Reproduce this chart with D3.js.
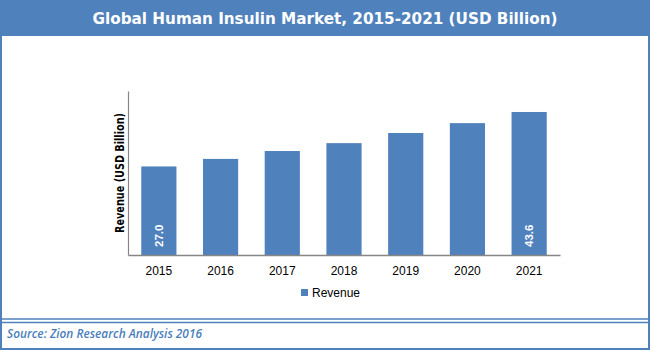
<!DOCTYPE html>
<html><head><meta charset="utf-8">
<script src="https://cdn.jsdelivr.net/npm/d3@7"></script>
<style>body{margin:0;background:#fff}svg{display:block}</style>
</head><body>
<script>
const years = ["2015","2016","2017","2018","2019","2020","2021"];
const revenue = [27.0, 29.3, 31.7, 34.1, 37.2, 40.2, 43.6];
const labelled = ["2015","2021"];
const titleText = "Global Human Insulin Market, 2015-2021 (USD Billion)";
const yTitle = "Revenue (USD Billion)";
const seriesName = "Revenue";
const sourceText = "Source: Zion Research Analysis 2016";

const W = 650, H = 350, blue = "#4f81bd";
const svg = d3.select("body").append("svg").attr("width", W).attr("height", H);

// frame
svg.append("rect").attr("x",0).attr("y",0).attr("width",W).attr("height",36).attr("fill",blue);
svg.append("rect").attr("x",1).attr("y",1).attr("width",W-2).attr("height",H-2)
  .attr("fill","none").attr("stroke",blue).attr("stroke-width",2);
svg.append("line").attr("x1",0).attr("x2",W).attr("y1",319).attr("y2",319).attr("stroke",blue).attr("stroke-width",1.5);
svg.append("line").attr("x1",0).attr("x2",W).attr("y1",322.5).attr("y2",322.5).attr("stroke",blue).attr("stroke-width",1.5);

svg.append("text").attr("x",W/2).attr("y",24).attr("text-anchor","middle")
  .attr("fill","#fff").attr("font-family","DejaVu Sans Condensed, DejaVu Sans").attr("font-weight","bold").attr("font-size",15.5)
  .attr("textLength",465).attr("lengthAdjust","spacingAndGlyphs")
  .text(titleText);

const x = d3.scaleBand().domain(years).range([128,560]).paddingInner(0.43).paddingOuter(0.215);
const y = d3.scaleLinear().domain([0,50]).range([255,91]);

svg.selectAll("rect.bar").data(years).enter().append("rect").attr("class","bar")
  .attr("x",d=>x(d)).attr("width",x.bandwidth())
  .attr("y",(d,i)=>y(revenue[i])).attr("height",(d,i)=>y(0)-y(revenue[i]))
  .attr("fill",blue);

// axes
const xAxis = svg.append("g").attr("transform","translate(0,255)")
  .call(d3.axisBottom(x).tickSize(0).tickPadding(11));
xAxis.select(".domain").attr("stroke","#868686").attr("stroke-width",1.5);
xAxis.selectAll("text").attr("font-family","Liberation Sans").attr("font-size",12).attr("fill","#000");

const yAxis = svg.append("g").attr("transform","translate(128,0)")
  .call(d3.axisLeft(y).tickValues([]).tickSizeOuter(0));
yAxis.select(".domain").attr("stroke","#868686").attr("stroke-width",1.2);

svg.append("text").attr("transform","translate(124,173) rotate(-90)").attr("text-anchor","middle")
  .attr("font-family","DejaVu Sans Condensed, DejaVu Sans").attr("font-weight","bold").attr("font-size",11.5).attr("fill","#000")
  .attr("textLength",120).attr("lengthAdjust","spacingAndGlyphs")
  .text(yTitle);

// data labels
years.forEach((d,i)=>{
  if(!labelled.includes(d)) return;
  svg.append("text").attr("transform",`translate(${x(d)+x.bandwidth()/2+4},${y(0)-8}) rotate(-90)`)
    .attr("text-anchor","start").attr("fill","#fff").attr("font-family","Liberation Sans")
    .attr("font-weight","bold").attr("font-size",11.5).text(revenue[i].toFixed(1));
});

// legend
const lg = svg.append("g").attr("transform","translate(301,289)");
lg.append("rect").attr("width",7).attr("height",7).attr("fill",blue);
lg.append("text").attr("x",11).attr("y",8).attr("font-family","Liberation Sans").attr("font-size",12)
  .attr("fill","#000").text(seriesName);

// source
svg.append("text").attr("x",7).attr("y",338).attr("font-family","Open Sans").attr("font-style","italic")
  .attr("font-weight",600).attr("font-size",13).attr("fill","#4a7ebb").attr("textLength",195).attr("lengthAdjust","spacingAndGlyphs")
  .text(sourceText);
</script>
</body></html>
